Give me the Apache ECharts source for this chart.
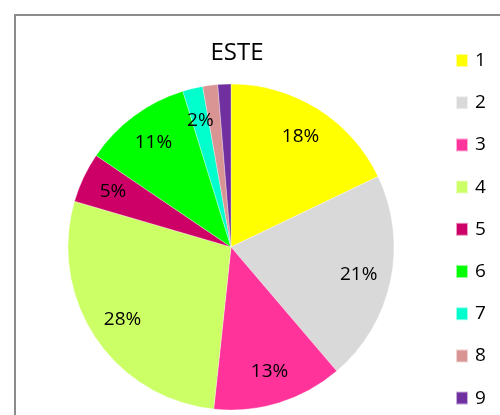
<!DOCTYPE html>
<html>
<head>
<meta charset="utf-8">
<script src="https://cdn.jsdelivr.net/npm/echarts@6/dist/echarts.min.js"></script>
<style>
  html, body { margin: 0; padding: 0; background: #fff; }
  #chart { width: 500px; height: 415px; }
</style>
</head>
<body>
<div id="chart"></div>
<script>
// datos
const categorias = ['1', '2', '3', '4', '5', '6', '7', '8', '9']
const valores = [18, 21, 13, 28, 5, 10.8, 2, 1.5, 1.3]
const colores = ['#FFFF00', '#D9D9D9', '#FF3399', '#CCFF66', '#CC0066', '#00FF00', '#00FFCC', '#D99594', '#7030A0']

const chartDiv = document.getElementById('chart')
const myChart = echarts.init(chartDiv)

const datos = categorias.map((c, i) => ({ name: c, value: valores[i], itemStyle: { color: colores[i] } }))

myChart.setOption({
    animation: false,
    title: {
        text: 'ESTE',
        left: 232,
        textAlign: 'center',
        top: 36,
        textStyle: { fontFamily: 'Open Sans', fontSize: 24, fontWeight: 'normal', color: '#000' }
    },
    legend: {
        orient: 'vertical',
        left: 450,
        top: 46,
        itemWidth: 12,
        itemHeight: 13,
        itemGap: 23.2,
        icon: 'rect',
        data: categorias,
        textStyle: { fontFamily: 'Open Sans', fontSize: 19, color: '#000', padding: [0, 0, 0, 2] }
    },
    graphic: [{
        type: 'rect',
        shape: { x: 15, y: 15, width: 700, height: 700 },
        style: { fill: 'none', stroke: '#8c8c8c', lineWidth: 2 },
        silent: true
    }],
    series: [
        {
            type: 'pie',
            center: [231, 247],
            radius: [0, 163],
            startAngle: 90,
            clockwise: true,
            data: datos,
            itemStyle: { borderColor: 'rgba(255,255,255,0.6)', borderWidth: 0.5 },
            label: { show: false },
            labelLine: { show: false },
            emphasis: { disabled: true }
        },
        {
            // serie transparente solo para ubicar las etiquetas
            type: 'pie',
            center: [231, 247],
            radius: [92, 163],
            startAngle: 90,
            clockwise: true,
            silent: true,
            data: categorias.map((c, i) => ({ name: c, value: valores[i] })),
            itemStyle: { color: 'rgba(0,0,0,0)' },
            label: {
                show: true,
                position: 'inside',
                fontFamily: 'Open Sans',
                fontSize: 19,
                color: '#000',
                formatter: function (p) {
                    const pct = Math.round(p.percent)
                    return pct >= 2 ? pct + '%' : ''
                }
            },
            labelLine: { show: false },
            emphasis: { disabled: true }
        }
    ]
})
</script>
</body>
</html>
